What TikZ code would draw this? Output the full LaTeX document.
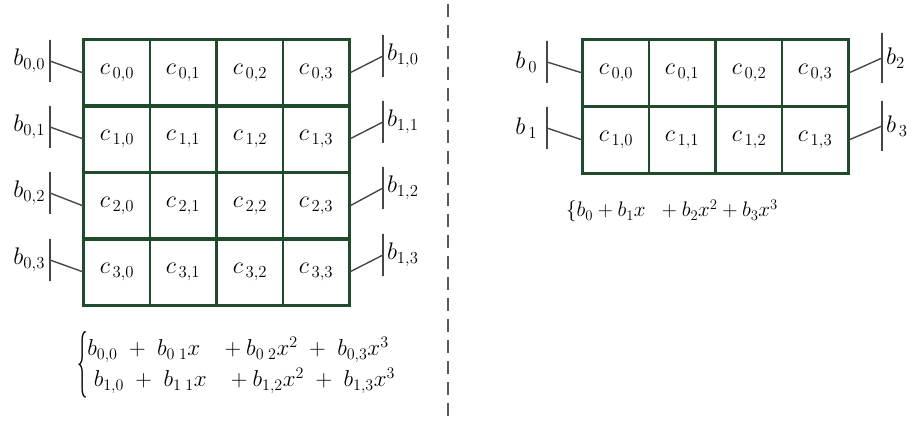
\documentclass[tikz,border=0pt]{standalone}
\usepackage{fix-cm}
\usepackage{tikz}
\usetikzlibrary{positioning,calc}
\definecolor{gridgreen}{HTML}{1F4B2C}
\definecolor{bargray}{HTML}{474747}
\definecolor{dashgray}{HTML}{5A5A5A}
\tikzset{
  cellbox/.style={
    draw=gridgreen,
    line width=1.3pt,
    minimum width=66pt,
    minimum height=66pt,
    inner sep=0pt,
    font=\fontsize{24}{28}\selectfont
  },
  blockline/.style={draw=gridgreen,line width=3pt},
  barbox/.style={draw=bargray,line width=1.6pt,minimum width=0pt,minimum height=42pt,inner sep=0pt},
  barlink/.style={draw=bargray,line width=1.4pt},
  coeflabel/.style={inner sep=1pt,font=\fontsize{24}{28}\selectfont},
  polytext/.style={inner sep=0pt,font=\fontsize{23}{31}\selectfont},
  splitline/.style={draw=dashgray,line width=2.2pt,dash pattern=on 13pt off 8pt}
}

\begin{document}
\begin{tikzpicture}[x=1pt,y=-1pt]
  \useasboundingbox (0,0) rectangle (921,422);

  % left: 4x4 coefficients
  \node[cellbox] (lc00) at (117,73)  {$c_{\,0,0}$};
  \node[cellbox] (lc01) at (183,73)  {$c_{\,0,1}$};
  \node[cellbox] (lc02) at (250,73)  {$c_{\,0,2}$};
  \node[cellbox] (lc03) at (316,73)  {$c_{\,0,3}$};
  \node[cellbox] (lc10) at (117,139) {$c_{\,1,0}$};
  \node[cellbox] (lc11) at (183,139) {$c_{\,1,1}$};
  \node[cellbox] (lc12) at (250,139) {$c_{\,1,2}$};
  \node[cellbox] (lc13) at (316,139) {$c_{\,1,3}$};
  \node[cellbox] (lc20) at (117,206) {$c_{\,2,0}$};
  \node[cellbox] (lc21) at (183,206) {$c_{\,2,1}$};
  \node[cellbox] (lc22) at (250,206) {$c_{\,2,2}$};
  \node[cellbox] (lc23) at (316,206) {$c_{\,2,3}$};
  \node[cellbox] (lc30) at (117,272) {$c_{\,3,0}$};
  \node[cellbox] (lc31) at (183,272) {$c_{\,3,1}$};
  \node[cellbox] (lc32) at (250,272) {$c_{\,3,2}$};
  \node[cellbox] (lc33) at (316,272) {$c_{\,3,3}$};

  \draw[blockline] (lc00.north west) rectangle (lc01.south east);
  \draw[blockline] (lc02.north west) rectangle (lc03.south east);
  \draw[blockline] (lc10.north west) rectangle (lc11.south east);
  \draw[blockline] (lc12.north west) rectangle (lc13.south east);
  \draw[blockline] (lc20.north west) rectangle (lc21.south east);
  \draw[blockline] (lc22.north west) rectangle (lc23.south east);
  \draw[blockline] (lc30.north west) rectangle (lc31.south east);
  \draw[blockline] (lc32.north west) rectangle (lc33.south east);

  \node[barbox] (lb0) at (50,61)  {};
  \node[barbox] (lb1) at (50,127) {};
  \node[barbox] (lb2) at (50,193) {};
  \node[barbox] (lb3) at (50,260) {};
  \node[barbox] (rb0) at (383,56)  {};
  \node[barbox] (rb1) at (383,122) {};
  \node[barbox] (rb2) at (383,188) {};
  \node[barbox] (rb3) at (383,255) {};

  \node[coeflabel,left=3pt of lb0] (lbl0) {$b_{0,0}$};
  \node[coeflabel,left=3pt of lb1] (lbl1) {$b_{0,1}$};
  \node[coeflabel,left=3pt of lb2] (lbl2) {$b_{0,2}$};
  \node[coeflabel,left=3pt of lb3] (lbl3) {$b_{0,3}$};
  \node[coeflabel,right=2pt of rb0] (rbl0) {$b_{1,0}$};
  \node[coeflabel,right=2pt of rb1] (rbl1) {$b_{1,1}$};
  \node[coeflabel,right=2pt of rb2] (rbl2) {$b_{1,2}$};
  \node[coeflabel,right=2pt of rb3] (rbl3) {$b_{1,3}$};

  \draw[barlink] (lb0.center) -- (lc00.west);
  \draw[barlink] (lb1.center) -- (lc10.west);
  \draw[barlink] (lb2.center) -- (lc20.west);
  \draw[barlink] (lb3.center) -- (lc30.west);
  \draw[barlink] (rb0.center) -- (lc03.east);
  \draw[barlink] (rb1.center) -- (lc13.east);
  \draw[barlink] (rb2.center) -- (lc23.east);
  \draw[barlink] (rb3.center) -- (lc33.east);

  \node[polytext] (polybig) at (236,365)
    {$\vcenter{\hbox{\scalebox{0.9}[2.9]{$\{$}}}\begin{array}{@{}l@{}}
      b_{0,0} \;+\; b_{0\;1}x \;\;\; + b_{0\;2}x^{2} \;+\; b_{0,3}x^{3}\\
      \;b_{1,0} \;+\; b_{1\;1}x \;\;\; + b_{1,2}x^{2} \;+\; b_{1,3}x^{3}
    \end{array}$};

  % divider
  \coordinate (splittop) at (448,4);
  \coordinate (splitbot) at (448,422);
  \draw[splitline] (splittop) -- (splitbot);

  % right: 2x4 coefficients
  \node[cellbox] (rc00) at (616,73)  {$c_{\,0,0}$};
  \node[cellbox] (rc01) at (682,73)  {$c_{\,0,1}$};
  \node[cellbox] (rc02) at (749,73)  {$c_{\,0,2}$};
  \node[cellbox] (rc03) at (815,73)  {$c_{\,0,3}$};
  \node[cellbox] (rc10) at (616,140) {$c_{\,1,0}$};
  \node[cellbox] (rc11) at (682,140) {$c_{\,1,1}$};
  \node[cellbox] (rc12) at (749,140) {$c_{\,1,2}$};
  \node[cellbox] (rc13) at (815,140) {$c_{\,1,3}$};

  \draw[blockline] (rc00.north west) rectangle (rc01.south east);
  \draw[blockline] (rc02.north west) rectangle (rc03.south east);
  \draw[blockline] (rc10.north west) rectangle (rc11.south east);
  \draw[blockline] (rc12.north west) rectangle (rc13.south east);

  \node[barbox] (sb0) at (547,62)  {};
  \node[barbox] (sb1) at (547,128) {};
  \node[barbox,minimum height=50pt] (tb0) at (882,58)  {};
  \node[barbox,minimum height=50pt] (tb1) at (882,126) {};

  \node[coeflabel,left=8pt of sb0] (sbl0) {$b_{\,0}$};
  \node[coeflabel,left=8pt of sb1] (sbl1) {$b_{\,1}$};
  \node[coeflabel,right=2pt of tb0] (tbl0) {$b_{2}$};
  \node[coeflabel,right=2pt of tb1] (tbl1) {$b_{\,3}$};

  \draw[barlink] (sb0.center) -- (rc00.west);
  \draw[barlink] (sb1.center) -- (rc10.west);
  \draw[barlink] (tb0.center) -- (rc03.east);
  \draw[barlink] (tb1.center) -- (rc13.east);

  \node[polytext,font=\fontsize{21}{25}\selectfont] (polysmall) at (672,211)
    {$\{b_0 + b_1x \;\; + b_2x^2 + b_3x^3$};
\end{tikzpicture}
\end{document}
